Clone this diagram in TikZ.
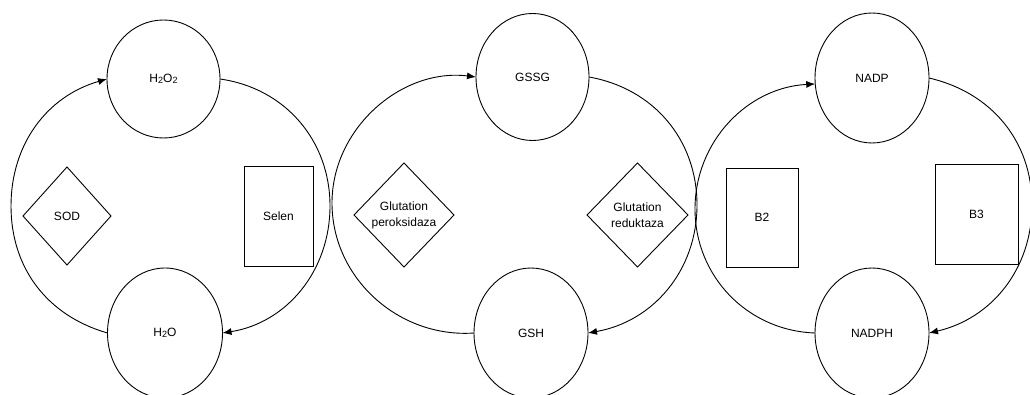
\documentclass[tikz,border=0pt]{standalone}
\usepackage{fontspec}
\setmainfont{Liberation Sans}
\usetikzlibrary{shapes.geometric,arrows.meta}
\newcommand{\mysb}[1]{\raisebox{-0.8pt}{\fontsize{9}{9}\selectfont #1}}
\begin{document}
\begin{tikzpicture}[x=1pt,y=1pt,
  every node/.style={font=\fontsize{12}{16}\selectfont, inner sep=0pt, outer sep=0pt},
  mol/.style={ellipse, draw, line width=0.9pt},
  enz/.style={diamond, draw, line width=0.9pt, align=center},
  vit/.style={rectangle, draw, line width=0.9pt},
  conn/.style={line width=0.9pt},
  arr/.style={line width=0.9pt, -{Latex[length=9pt,width=7pt]}}]
\useasboundingbox (0,0) rectangle (1030,-395);
% cycle 1
\node[mol, minimum width=113pt, minimum height=118pt] (h2o2) at (163.5,-79) {H\mysb{2}O\mysb{2}};
\node[mol, minimum width=115pt, minimum height=130pt] (h2o) at (165,-333) {H\mysb{2}O};
\node[enz, minimum width=88pt, minimum height=98pt] (sod) at (67,-216) {SOD};
\node[vit, minimum width=69pt, minimum height=100pt] (selen) at (278.5,-216) {Selen};
\coordinate (c1l) at (11,-206);
\coordinate (c1r) at (330,-206);
\draw[arr] (h2o.west) to[out=164,in=-90] (c1l) to[out=90,in=196] (h2o2.west);
\draw[arr] (h2o2.east) to[out=-8,in=90] (c1r) to[out=-90,in=9] (h2o.east);
% cycle 2
\node[mol, minimum width=113pt, minimum height=127pt] (gssg) at (532.5,-77) {GSSG};
\node[mol, minimum width=114pt, minimum height=130pt] (gsh) at (531,-333) {GSH};
\node[enz, minimum width=100pt, minimum height=104pt] (gpx) at (404,-215) {Glutation\\peroksidaza};
\node[enz, minimum width=101pt, minimum height=104pt] (gr) at (637.5,-215) {Glutation\\reduktaza};
\coordinate (c2l) at (332,-203);
\coordinate (c2r) at (697,-205);
\draw[arr] (gsh.west) to[out=184,in=-90] (c2l) to[out=90,in=173] (gssg.west);
\draw[arr] (gssg.east) to[out=-10,in=90] (c2r) to[out=-90,in=10] (gsh.east);
% cycle 3
\node[mol, minimum width=114pt, minimum height=130pt] (nadp) at (872,-78) {NADP};
\node[mol, minimum width=114pt, minimum height=130pt] (nadph) at (872,-333) {NADPH};
\node[vit, minimum width=72pt, minimum height=99pt] (b2) at (762,-217.5) {B2};
\node[vit, minimum width=83pt, minimum height=100pt] (b3) at (976.5,-214) {B3};
\coordinate (c3l) at (695,-209);
\coordinate (c3r) at (1032,-205);
\draw[arr] (nadph.west) to[out=178,in=-90] (c3l) to[out=90,in=183] (nadp.186);
\draw[arr] (nadp.east) to[out=-13,in=90] (c3r) to[out=-90,in=13] (nadph.east);
\end{tikzpicture}
\end{document}
